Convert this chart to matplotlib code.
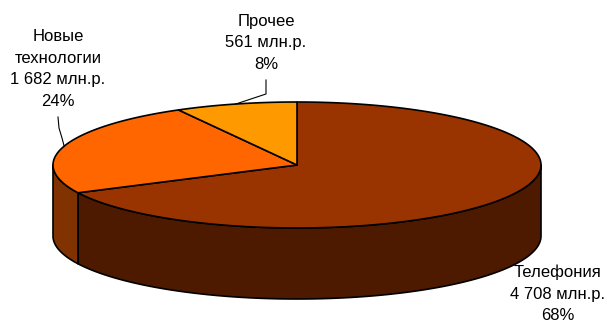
import matplotlib.pyplot as plt
import numpy as np
from matplotlib.patches import Polygon

plt.rcParams['font.family'] = ['Liberation Sans', 'DejaVu Sans']

categories = ['Телефония', 'Новые\nтехнологии', 'Прочее']
values = [4708, 1682, 561]
top_colors = ['#993300', '#FF6600', '#FF9900']
side_colors = ['#4D1A00', '#803300', '#804D00']

# ellipse geometry in pixels (y grows downward)
cx, cy = 297, 165
rx, ry = 244, 63
depth = 71


def pt(t, dy=0):
    t = np.radians(t)
    return np.column_stack([cx + rx * np.cos(t), cy - ry * np.sin(t) + dy])


fig = plt.figure(figsize=(6.07, 3.23), dpi=100)
ax = fig.add_axes([0, 0, 1, 1])
ax.set_xlim(0, 607)
ax.set_ylim(323, 0)
ax.axis('off')

total = sum(values)
fracs = np.array(values) / total
ends = 90 - 360 * np.cumsum(fracs)
starts = np.concatenate([[90], ends[:-1]])

# front walls: only the lower half of the rim is visible
for s, e, col in zip(starts, ends, side_colors):
    lo, hi = max(e, -180), min(s, 0)
    if hi <= lo:
        continue
    t = np.linspace(hi, lo, 100)
    top = pt(t)
    bot = pt(t[::-1], depth)
    ax.add_patch(Polygon(np.vstack([top, bot]), closed=True, fc=col,
                         ec='black', lw=1.2, joinstyle='round'))

# top face
for s, e, col in zip(starts, ends, top_colors):
    t = np.linspace(s, e, 200)
    verts = np.vstack([[cx, cy], pt(t)])
    ax.add_patch(Polygon(verts, closed=True, fc=col, ec='black', lw=1.2,
                         joinstyle='round'))


def label(i):
    pct = round(fracs[i] * 100)
    amount = f'{values[i]:,}'.replace(',', ' ')
    return f'{categories[i]}\n{amount} млн.р.\n{pct}%'


kw = dict(ha='center', va='center', fontsize=12, linespacing=1.55,
          color='black')
ax.text(266, 43, label(2), **kw)
ax.text(58, 69, label(1), **kw)
ax.text(558, 294, label(0), **kw)

# leader lines to slice midpoints on the rim
mid2 = pt((starts[2] + ends[2]) / 2)[0]
ax.plot([266, 266, mid2[0]], [80, 94, mid2[1]], color='black', lw=0.8)
mid1 = pt((starts[1] + ends[1]) / 2)[0]
ax.plot([58, 59, 62, mid1[0]], [117, 128, 138, mid1[1]], color='black',
        lw=0.8)

fig.savefig('out.png', dpi=100)
